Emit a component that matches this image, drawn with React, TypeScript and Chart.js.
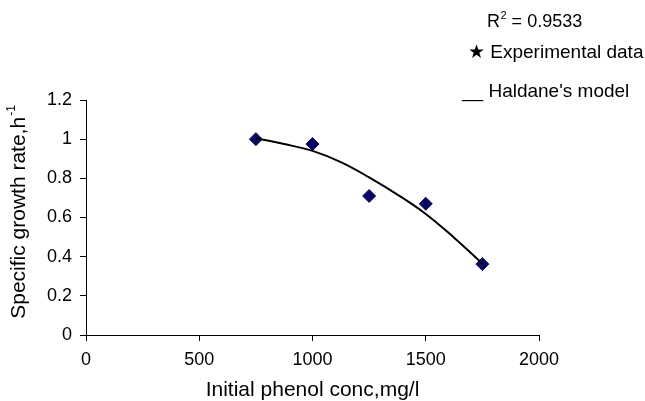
import React, { useEffect, useRef } from "react";
import { Chart, registerables } from "chart.js";

Chart.register(...registerables);

const expConc = [750, 1000, 1250, 1500, 1750];
const expRate = [1.0, 0.975, 0.71, 0.67, 0.362];

const modelConc = [750, 875, 1000, 1125, 1250, 1375, 1500, 1625, 1750];
const modelRate = [1.005, 0.975, 0.94, 0.883, 0.805, 0.717, 0.618, 0.497, 0.365];

const xTitle = "Initial phenol conc,mg/l";
const yTitleMain = "Specific growth rate,h";
const yTitleSup = "-1";
const r2Label = "0.9533";
const expLabel = "\u2605 Experimental data";
const modelLabel = "__ Haldane's model";

const FONT = "'Liberation Sans', Arial, 'DejaVu Sans', sans-serif";

const legendTextPlugin = {
  id: "legendText",
  afterDraw(chart: any) {
    const ctx = chart.ctx;
    ctx.save();
    ctx.fillStyle = "#000";
    ctx.textBaseline = "alphabetic";
    ctx.textAlign = "left";
    ctx.font = `18px ${FONT}`;
    let x = 487;
    ctx.fillText("R", x, 27);
    x += ctx.measureText("R").width;
    ctx.font = `11px ${FONT}`;
    ctx.fillText("2", x + 0.5, 19);
    x += ctx.measureText("2").width + 0.5;
    ctx.font = `18px ${FONT}`;
    ctx.fillText(" = " + r2Label, x, 27);
    ctx.font = `19px ${FONT}`;
    ctx.fillText(expLabel, 468, 58);
    ctx.fillText(modelLabel, 462, 97);

    // y-axis title with superscript
    ctx.translate(25, 212);
    ctx.rotate(-Math.PI / 2);
    ctx.font = `21px ${FONT}`;
    const w1 = ctx.measureText(yTitleMain).width;
    ctx.font = `12px ${FONT}`;
    const w2 = ctx.measureText(yTitleSup).width;
    const start = -(w1 + w2 + 1) / 2;
    ctx.font = `21px ${FONT}`;
    ctx.fillText(yTitleMain, start, 0);
    ctx.font = `12px ${FONT}`;
    ctx.fillText(yTitleSup, start + w1 + 1, -10);
    ctx.restore();
  },
};

export default function App() {
  const ref = useRef<HTMLCanvasElement>(null);
  useEffect(() => {
    if (!ref.current) return;
    const chart = new Chart(ref.current, {
      type: "scatter",
      data: {
        datasets: [
          {
            label: "Haldane's model",
            data: modelConc.map((c, i) => ({ x: c, y: modelRate[i] })),
            showLine: true,
            borderColor: "#000",
            borderWidth: 2,
            pointRadius: 0,
            tension: 0.4,
            fill: false,
          },
          {
            label: "Experimental data",
            data: expConc.map((c, i) => ({ x: c, y: expRate[i] })),
            showLine: false,
            pointStyle: "rectRot",
            pointRadius: 6.5,
            backgroundColor: "#0a0a60",
            borderColor: "#0a0a60",
            borderWidth: 1,
          },
        ],
      },
      options: {
        responsive: false,
        animation: false,
        layout: { padding: { top: 100, right: 106, left: 0, bottom: 0 } },
        plugins: { legend: { display: false }, tooltip: { enabled: false } },
        scales: {
          x: {
            type: "linear",
            min: 0,
            max: 2000,
            afterFit: (s: any) => {
              s.height = 66;
            },
            ticks: {
              stepSize: 500,
              color: "#000",
              padding: 8,
              font: { family: FONT, size: 18 },
              callback: (v: any) => String(v),
            },
            grid: { drawOnChartArea: false, drawTicks: true, tickLength: 6, color: "#000" },
            border: { color: "#000", width: 1 },
            title: {
              display: true,
              text: xTitle,
              color: "#000",
              font: { family: FONT, size: 21, lineHeight: 1 },
              padding: 0,
            },
          },
          y: {
            type: "linear",
            min: 0,
            max: 1.2,
            afterFit: (s: any) => {
              s.width = 86;
            },
            ticks: {
              stepSize: 0.2,
              color: "#000",
              padding: 8,
              font: { family: FONT, size: 18 },
              callback: (v: any) => String(Math.round(v * 10) / 10),
            },
            grid: { drawOnChartArea: false, drawTicks: true, tickLength: 6, color: "#000" },
            border: { color: "#000", width: 1 },
            title: { display: false },
          },
        },
      },
      plugins: [legendTextPlugin],
    } as any);
    return () => chart.destroy();
  }, []);
  return (
    <div style={{ position: "absolute", left: 0, top: 0, width: 645, height: 401, background: "#fff" }}>
      <canvas ref={ref} width={645} height={401} style={{ display: "block", width: 645, height: 401 }} />
    </div>
  );
}
